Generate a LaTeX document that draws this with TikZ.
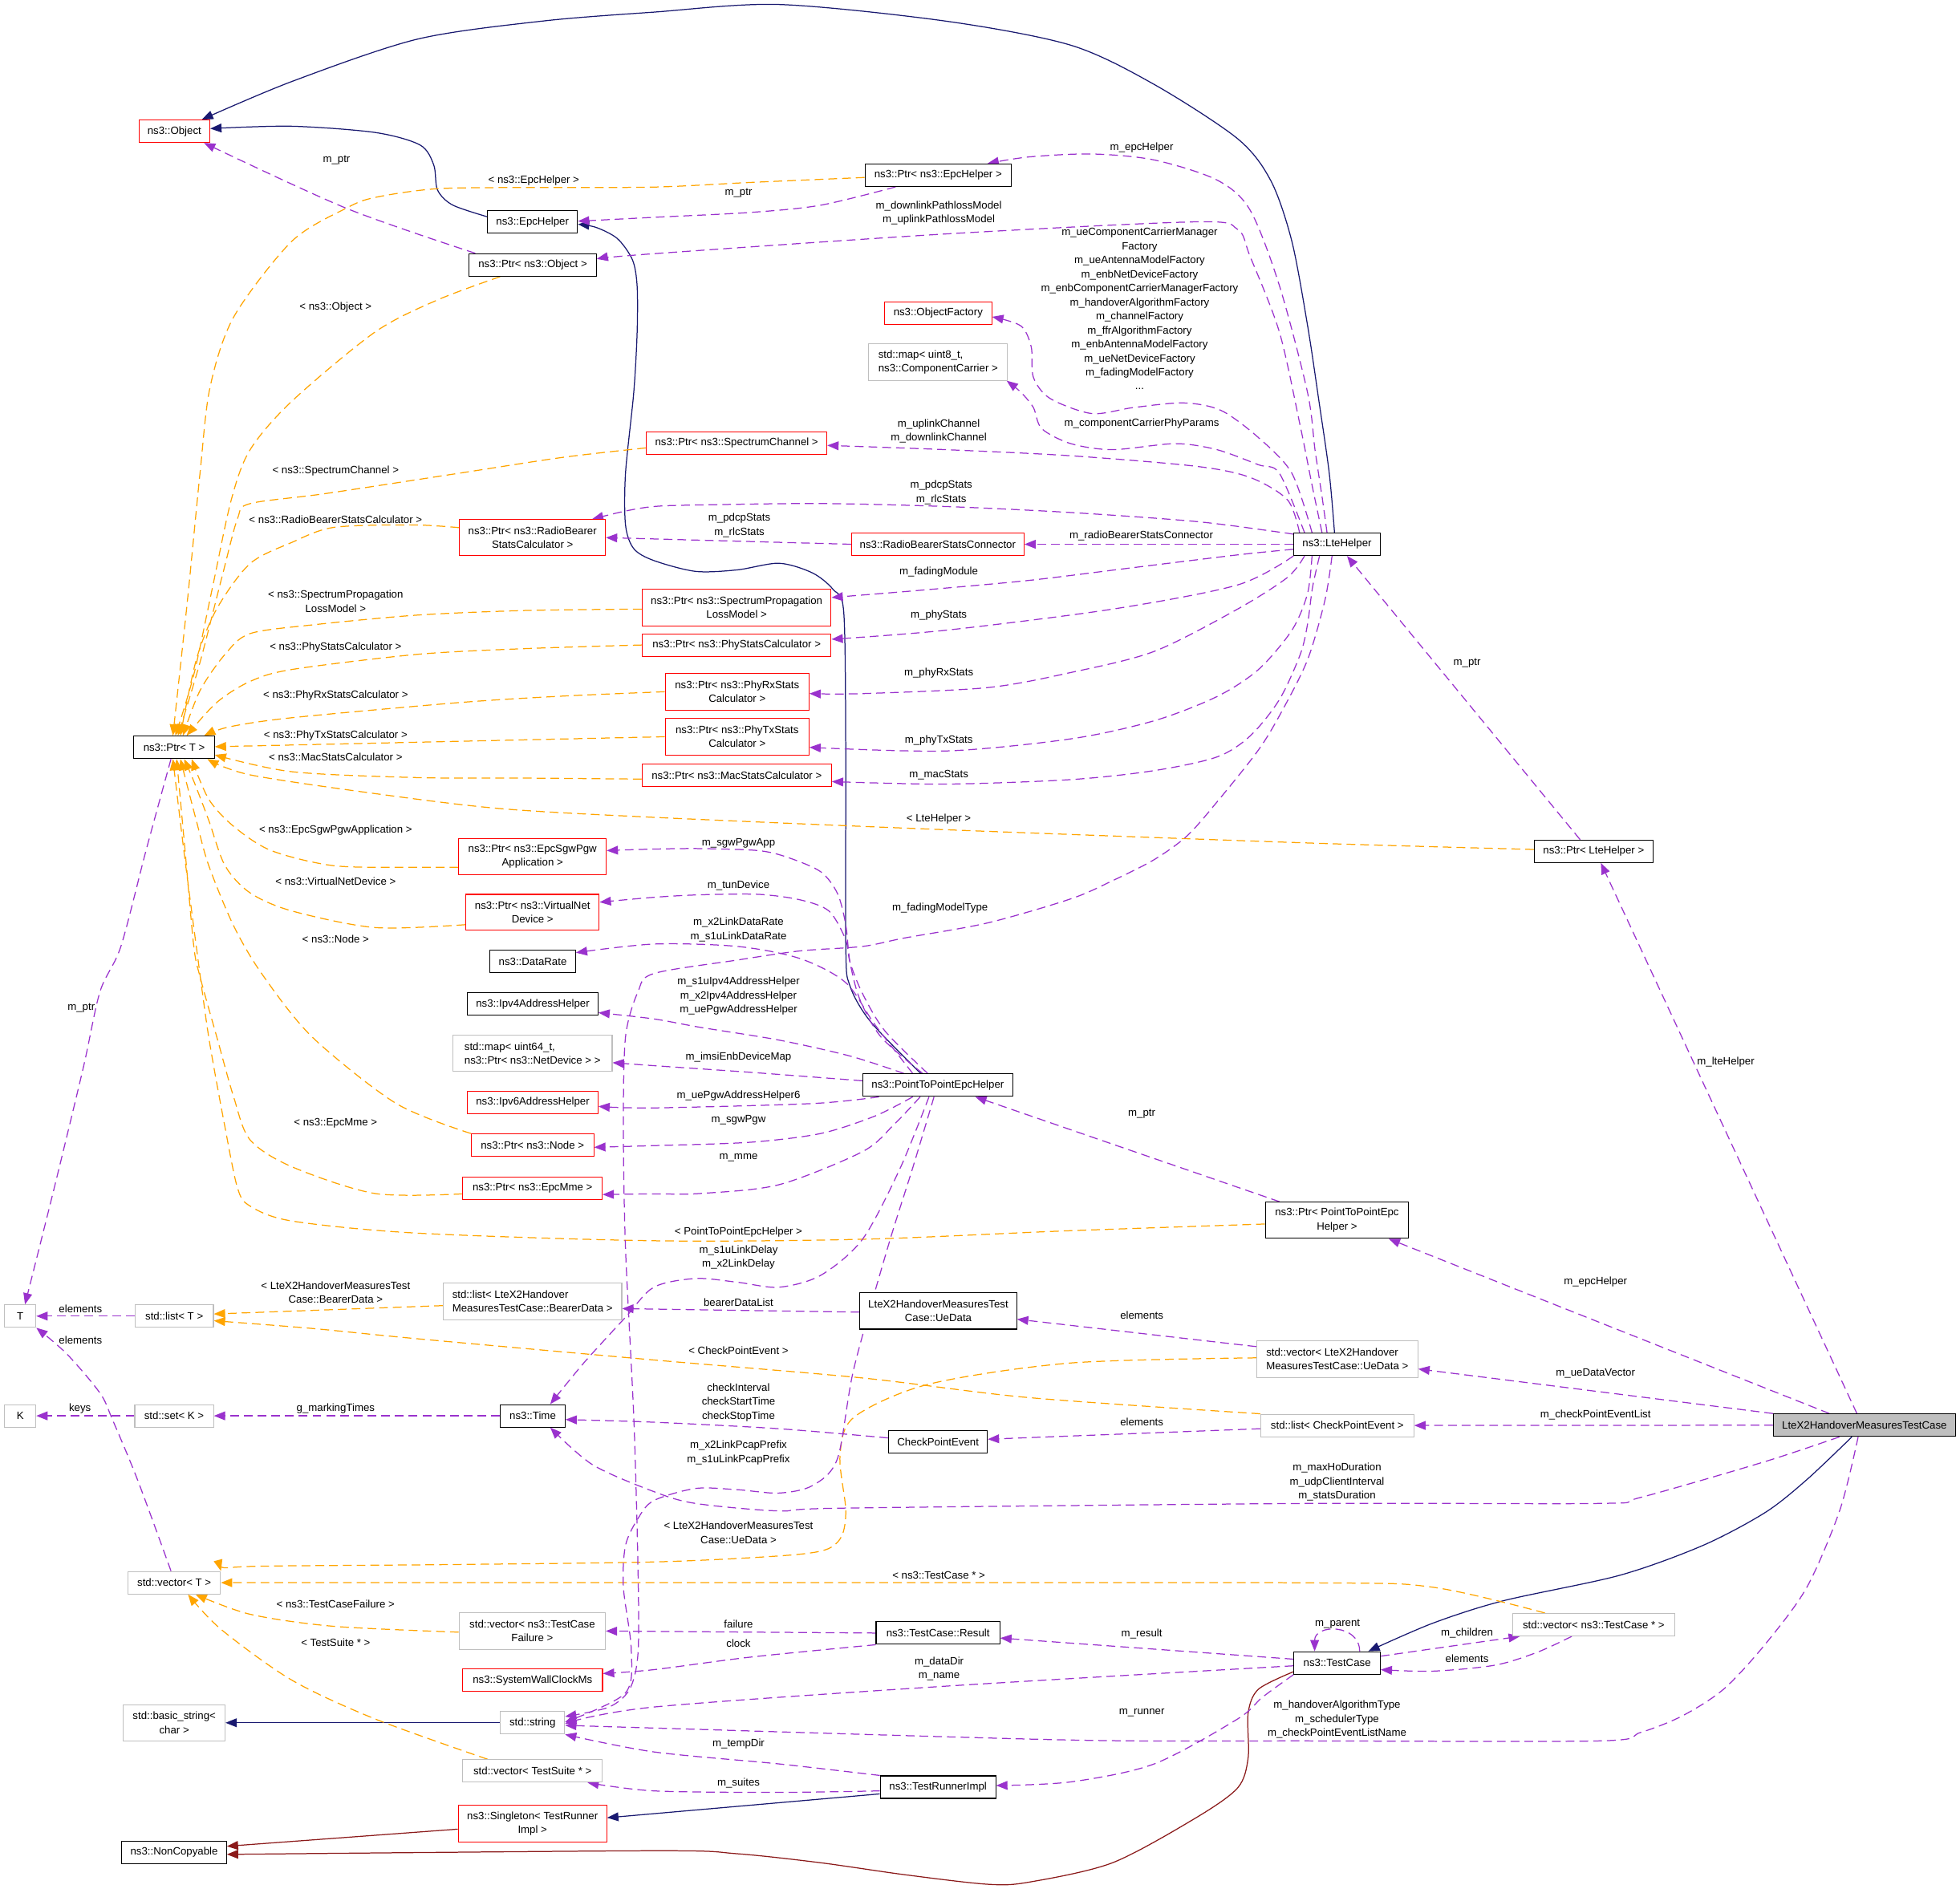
\documentclass[tikz,border=0pt]{standalone}
\usepackage{fontspec}
\setmainfont{Liberation Sans}
\usepackage{tikz}
\usetikzlibrary{arrows.meta,backgrounds}
\newcommand{\dxfont}{\fontsize{8.5pt}{11.2pt}\selectfont}
\definecolor{usecol}{HTML}{9A32CD}
\definecolor{tplcol}{HTML}{FFA500}
\definecolor{inhcol}{HTML}{191970}
\definecolor{privcol}{HTML}{8B1A1A}
\definecolor{grayline}{HTML}{BFBFBF}
\tikzset{
  cls/.style={draw=black,fill=white,line width=0.7pt,inner sep=1pt,
    minimum height=18pt,align=center,font=\dxfont},
  clsred/.style={cls,draw=red},
  clsgray/.style={cls,draw=grayline},
  clsmain/.style={cls,fill=grayline},
  lbl/.style={inner sep=0pt,align=center,font=\dxfont},
  dxtip/.style={-{Triangle[length=9pt,width=7pt]}},
  inh/.style={dxtip,draw=inhcol,line width=0.8pt},
  priv/.style={dxtip,draw=privcol,line width=0.8pt},
  memb/.style={dxtip,draw=usecol,line width=0.8pt,dash pattern=on 7pt off 4pt},
  tmpl/.style={dxtip,draw=tplcol,line width=0.8pt,dash pattern=on 7pt off 4pt},
}

\begin{document}
\begin{tikzpicture}[x=1pt,y=-1pt]
\begin{scope}[on background layer]
\fill[white] (0,0) rectangle (1568,1511.5);
\end{scope}
\useasboundingbox (0,0) rectangle (1568,1511.5);
% left column
\node[clsred,minimum width=56.7pt] (obj) at (139.5,105) {ns3::Object};
\node[cls,minimum width=64.4pt] (ptrt) at (139.3,598) {ns3::Ptr< T >};
\node[clsgray,minimum width=25pt] (tT) at (16.2,1053.1) {T};
\node[clsgray,minimum width=62.7pt] (listt) at (139.4,1053.1) {std::list< T >};
\node[clsgray,minimum width=25pt] (kK) at (16.2,1132.9) {K};
\node[clsgray,minimum width=63pt] (setk) at (139.3,1132.9) {std::set< K >};
\node[clsgray,minimum width=74pt] (vect) at (139.4,1266.4) {std::vector< T >};
\node[clsgray,minimum width=81.4pt,minimum height=29pt] (bstr) at (139.4,1378.5) {std::basic\_string<\\char >};
\node[cls,minimum width=83.7pt] (noncp) at (139.3,1482.1) {ns3::NonCopyable};
% second column
\node[cls,minimum width=72pt] (epch) at (426,177.7) {ns3::EpcHelper};
\node[cls,minimum width=101.7pt] (ptrobj) at (426.2,212) {ns3::Ptr< ns3::Object >};
\node[clsred,minimum width=116.8pt,minimum height=29pt] (ptrrbsc) at (426,430.2) {ns3::Ptr< ns3::RadioBearer\\StatsCalculator >};
\node[clsred,minimum width=118pt,minimum height=29pt] (ptrsgw) at (426,685.4) {ns3::Ptr< ns3::EpcSgwPgw\\Application >};
\node[clsred,minimum width=106.8pt,minimum height=28.5pt] (ptrvnd) at (426,729.9) {ns3::Ptr< ns3::VirtualNet\\Device >};
\node[cls,minimum width=68.4pt] (drate) at (426.2,769.3) {ns3::DataRate};
\node[cls,minimum width=104.4pt] (ipv4) at (426.2,803.3) {ns3::Ipv4AddressHelper};
\node[clsgray,minimum width=127.4pt,minimum height=29pt,align=left] (mapnd) at (426,842.8) {std::map< uint64\_t,\\ ns3::Ptr< ns3::NetDevice > >};
\node[clsred,minimum width=104.4pt] (ipv6) at (426.2,882) {ns3::Ipv6AddressHelper};
\node[clsred,minimum width=98pt] (ptrnode) at (426,916.3) {ns3::Ptr< ns3::Node >};
\node[clsred,minimum width=111.4pt] (ptrmme) at (426,950.6) {ns3::Ptr< ns3::EpcMme >};
\node[clsgray,minimum width=142.8pt,minimum height=29.4pt,align=left] (listbd) at (426,1041.3) {std::list< LteX2Handover\\MeasuresTestCase::BearerData >};
\node[cls,minimum width=51.7pt] (time) at (426.2,1132.9) {ns3::Time};
\node[clsgray,minimum width=117pt,minimum height=29.2pt] (vectcf) at (425.8,1305.1) {std::vector< ns3::TestCase\\Failure >};
\node[clsred,minimum width=112pt] (swcm) at (426,1344.4) {ns3::SystemWallClockMs};
\node[clsgray,minimum width=51.4pt] (str) at (426,1378.5) {std::string};
\node[clsgray,minimum width=111.4pt] (vects) at (426,1417) {std::vector< TestSuite * >};
\node[clsred,minimum width=118.8pt,minimum height=29.2pt] (singl) at (426,1459.1) {ns3::Singleton< TestRunner\\Impl >};
% stats pointers
\node[clsred,minimum width=144.4pt] (ptrspch) at (589.3,354.4) {ns3::Ptr< ns3::SpectrumChannel >};
\node[clsred,minimum width=151.2pt,minimum height=29.2pt] (ptrsplm) at (589.3,486.1) {ns3::Ptr< ns3::SpectrumPropagation\\LossModel >};
\node[clsred,minimum width=151.2pt] (ptrphys) at (589.3,516.1) {ns3::Ptr< ns3::PhyStatsCalculator >};
\node[clsred,minimum width=115pt,minimum height=29.5pt] (ptrphyrx) at (589.7,553.5) {ns3::Ptr< ns3::PhyRxStats\\Calculator >};
\node[clsred,minimum width=115pt,minimum height=29pt] (ptrphytx) at (589.7,589.5) {ns3::Ptr< ns3::PhyTxStats\\Calculator >};
\node[clsred,minimum width=151.5pt] (ptrmac) at (589.4,620.4) {ns3::Ptr< ns3::MacStatsCalculator >};
% middle column
\node[cls,minimum width=117pt] (ptrepch) at (750.5,140.2) {ns3::Ptr< ns3::EpcHelper >};
\node[clsred,minimum width=85.7pt] (objfac) at (750.5,250.5) {ns3::ObjectFactory};
\node[clsgray,minimum width=111pt,minimum height=29pt,align=left] (mapcc) at (750.5,289.8) {std::map< uint8\_t,\\ ns3::ComponentCarrier >};
\node[clsred,minimum width=138pt] (rbscon) at (750.2,435.5) {ns3::RadioBearerStatsConnector};
\node[cls,minimum width=120pt] (p2p) at (750.2,868.3) {ns3::PointToPointEpcHelper};
\node[cls,minimum width=125.4pt,minimum height=29.2pt] (uedata) at (750.6,1048.9) {LteX2HandoverMeasuresTest\\Case::UeData};
\node[cls,minimum width=79pt] (cpe) at (750.4,1153.6) {CheckPointEvent};
\node[cls,minimum width=99pt] (tcres) at (750.4,1306.7) {ns3::TestCase::Result};
\node[cls,minimum width=92.4pt] (trimpl) at (750.4,1430) {ns3::TestRunnerImpl};
% right part
\node[cls,minimum width=69pt] (lte) at (1069.6,435.5) {ns3::LteHelper};
\node[cls,minimum width=114.8pt,minimum height=29pt] (ptrp2p) at (1069.6,976.4) {ns3::Ptr< PointToPointEpc\\Helper >};
\node[clsgray,minimum width=129pt,minimum height=29.3pt,align=left] (vecue) at (1069.8,1087.5) {std::vector< LteX2Handover\\MeasuresTestCase::UeData >};
\node[clsgray,minimum width=122.5pt] (listcpe) at (1069.8,1140.6) {std::list< CheckPointEvent >};
\node[cls,minimum width=69pt] (tcase) at (1069.7,1330.6) {ns3::TestCase};
\node[cls,minimum width=94.8pt] (ptrlte) at (1274.9,681.2) {ns3::Ptr< LteHelper >};
\node[clsgray,minimum width=130pt] (vectc) at (1274.9,1300) {std::vector< ns3::TestCase * >};
\node[clsmain,minimum width=145.5pt] (testx2) at (1491.5,1140.4) {LteX2HandoverMeasuresTestCase};

% labels
\node[lbl] (lptrobj) at (269.2,128) {m\_ptr};
\node[lbl] (ltepch) at (427,144.2) {< ns3::EpcHelper >};
\node[lbl] (lepch) at (913.4,118.3) {m\_epcHelper};
\node[lbl] (lptrepch) at (590.8,154.6) {m\_ptr};
\node[lbl] (lpath) at (751,170.5) {m\_downlinkPathlossModel\\m\_uplinkPathlossModel};
\node[lbl] (lfac) at (911.7,247.2) {m\_ueComponentCarrierManager\\Factory\\m\_ueAntennaModelFactory\\m\_enbNetDeviceFactory\\m\_enbComponentCarrierManagerFactory\\m\_handoverAlgorithmFactory\\m\_channelFactory\\m\_ffrAlgorithmFactory\\m\_enbAntennaModelFactory\\m\_ueNetDeviceFactory\\m\_fadingModelFactory\\...};
\node[lbl] (ltobj) at (268.5,245.6) {< ns3::Object >};
\node[lbl] (lccphy) at (913.4,338.8) {m\_componentCarrierPhyParams};
\node[lbl] (lchan) at (751,345) {m\_uplinkChannel\\m\_downlinkChannel};
\node[lbl] (ltspch) at (268.5,376.7) {< ns3::SpectrumChannel >};
\node[lbl] (lpdcpa) at (753,394) {m\_pdcpStats\\m\_rlcStats};
\node[lbl] (ltrbsc) at (268.5,415.6) {< ns3::RadioBearerStatsCalculator >};
\node[lbl] (lpdcpb) at (591.5,420.3) {m\_pdcpStats\\m\_rlcStats};
\node[lbl] (lrbscon) at (913,429) {m\_radioBearerStatsConnector};
\node[lbl] (lfadmod) at (751,457.7) {m\_fadingModule};
\node[lbl] (ltsplm) at (268.5,481.1) {< ns3::SpectrumPropagation\\LossModel >};
\node[lbl] (lphys) at (751,492.2) {m\_phyStats};
\node[lbl] (ltphys) at (268.5,518.3) {< ns3::PhyStatsCalculator >};
\node[lbl] (lptrlte) at (1173.6,530.8) {m\_ptr};
\node[lbl] (lphyrx) at (751,538.3) {m\_phyRxStats};
\node[lbl] (ltphyrx) at (268.5,556.2) {< ns3::PhyRxStatsCalculator >};
\node[lbl] (ltphytx) at (268.5,588.3) {< ns3::PhyTxStatsCalculator >};
\node[lbl] (lphytx) at (751,592.2) {m\_phyTxStats};
\node[lbl] (ltmac) at (268.5,605.7) {< ns3::MacStatsCalculator >};
\node[lbl] (lmac) at (751,620.4) {m\_macStats};
\node[lbl] (ltlte) at (751,655.2) {< LteHelper >};
\node[lbl] (ltsgw) at (268.5,664.2) {< ns3::EpcSgwPgwApplication >};
\node[lbl] (lsgwapp) at (590.8,674.5) {m\_sgwPgwApp};
\node[lbl] (ltvnd) at (268.5,705.2) {< ns3::VirtualNetDevice >};
\node[lbl] (ltun) at (590.8,708.8) {m\_tunDevice};
\node[lbl] (lfadtype) at (752,726.9) {m\_fadingModelType};
\node[lbl] (ldrate) at (590.8,744) {m\_x2LinkDataRate\\m\_s1uLinkDataRate};
\node[lbl] (ltnode) at (268.5,751.3) {< ns3::Node >};
\node[lbl] (lipv4) at (590.8,797.1) {m\_s1uIpv4AddressHelper\\m\_x2Ipv4AddressHelper\\m\_uePgwAddressHelper};
\node[lbl] (lptrt) at (65,806.8) {m\_ptr};
\node[lbl] (limsi) at (590.8,846.2) {m\_imsiEnbDeviceMap};
\node[lbl] (llteh) at (1380.6,850) {m\_lteHelper};
\node[lbl] (lipv6) at (590.8,877.1) {m\_uePgwAddressHelper6};
\node[lbl] (lptrp2p) at (913.4,891.1) {m\_ptr};
\node[lbl] (lsgw) at (590.8,895.9) {m\_sgwPgw};
\node[lbl] (ltmme) at (268.5,898.6) {< ns3::EpcMme >};
\node[lbl] (lmme) at (590.8,926.6) {m\_mme};
\node[lbl] (ltp2p) at (590.8,986) {< PointToPointEpcHelper >};
\node[lbl] (ldelay) at (590.8,1006) {m\_s1uLinkDelay\\m\_x2LinkDelay};
\node[lbl] (lepcb) at (1276.4,1025.8) {m\_epcHelper};
\node[lbl] (ltbd) at (268.5,1034) {< LteX2HandoverMeasuresTest\\Case::BearerData >};
\node[lbl] (lbdlist) at (590.8,1042.3) {bearerDataList};
\node[lbl] (lelta) at (64.4,1047.1) {elements};
\node[lbl] (leltue) at (913.4,1052.4) {elements};
\node[lbl] (leltb) at (64.4,1072.5) {elements};
\node[lbl] (ltcpe) at (590.8,1080.9) {< CheckPointEvent >};
\node[lbl] (luevec) at (1276.4,1099) {m\_ueDataVector};
\node[lbl] (lcheck) at (590.8,1122.2) {checkInterval\\checkStartTime\\checkStopTime};
\node[lbl] (lkeys) at (64,1126.8) {keys};
\node[lbl] (lmark) at (268.5,1126.8) {g\_markingTimes};
\node[lbl] (lcpel) at (1276.4,1132.5) {m\_checkPointEventList};
\node[lbl] (leltcpe) at (913.4,1138) {elements};
\node[lbl] (lpcap) at (590.8,1162.3) {m\_x2LinkPcapPrefix\\m\_s1uLinkPcapPrefix};
\node[lbl] (ldur) at (1069.6,1185.8) {m\_maxHoDuration\\m\_udpClientInterval\\m\_statsDuration};
\node[lbl] (ltue) at (590.8,1226.5) {< LteX2HandoverMeasuresTest\\Case::UeData >};
\node[lbl] (lttc) at (751,1260.5) {< ns3::TestCase * >};
\node[lbl] (lttcf) at (268.5,1283.3) {< ns3::TestCaseFailure >};
\node[lbl] (lfail) at (590.8,1299.3) {failure};
\node[lbl] (lparent) at (1070,1299.6) {m\_parent};
\node[lbl] (lchild) at (1173.6,1306.5) {m\_children};
\node[lbl] (lresult) at (913.4,1307.2) {m\_result};
\node[lbl] (ltts) at (268.5,1314.4) {< TestSuite * >};
\node[lbl] (lclock) at (590.8,1314.7) {clock};
\node[lbl] (lelttc) at (1173.6,1327.1) {elements};
\node[lbl] (ldir) at (751.3,1335.2) {m\_dataDir\\m\_name};
\node[lbl] (lrunner) at (913.4,1370.7) {m\_runner};
\node[lbl] (lhotype) at (1069.6,1375.9) {m\_handoverAlgorithmType\\m\_schedulerType\\m\_checkPointEventListName};
\node[lbl] (ltemp) at (590.8,1395.4) {m\_tempDir};
\node[lbl] (lsuites) at (590.8,1426.5) {m\_suites};

\begin{scope}[on background layer]
% inheritance
\draw[inh] plot[smooth] coordinates {([xshift=-2pt]lte.north) (1063.4,378.7) (1055,320) (1046.1,260.8) (1033.5,193.2) (1016.8,144.9) (990.2,111.1) (923.4,67.6) (856.7,36.2) (756.6,16.9) (623.2,3.6) (523.1,9.7) (433.7,16.9) (333.6,31.4) (233.5,65.2) ([xshift=22pt]obj.north)};
\draw[inh] plot[smooth] coordinates {([yshift=4.3pt]epch.west) (362,164) (350,152) (347,132) (336,116) (300,106) (233,101) ([yshift=2.1pt]obj.east)};
\draw[inh] plot[smooth] coordinates {([xshift=-13.6pt]p2p.north) (696.6,817.7) (679.9,788.7) (676.6,757) (676.6,600) (675,490) (666.5,471.7) (649.9,458.4) (623.2,450.7) (589.8,456) (556.5,457.2) (523,448.5) (507,439) (500.4,420) (500.4,378.7) (507,314) (509.7,266) (509.7,229) (506,208) (494,191) (477,182) ([yshift=-1.7pt]epch.east)};
\draw[inh] plot[smooth] coordinates {([xshift=-10pt]testx2.south) (1445.5,1183.9) (1412.2,1210.2) (1362.3,1236.6) (1295.7,1260.5) (1202.5,1280.9) (1146,1298.9) ([xshift=25pt]tcase.north)};
\draw[inh] (str) -- (bstr);
\draw[inh] ([yshift=-5.4pt]trimpl.west) -- ([yshift=4.6pt]singl.east);
\draw[priv] ([yshift=-4.5pt]singl.west) -- ([yshift=4.8pt]noncp.east);
\draw[priv] plot[smooth] coordinates {([yshift=-7pt]tcase.west) (1006.8,1351.6) (998.5,1370.7) (998.5,1406.6) (990.1,1430.6) (956.8,1454.5) (890,1490.5) (823.3,1506) (790,1507.7) (723.3,1500) (656.5,1490.5) (589.8,1483.3) (523.1,1480.9) ([yshift=-1.7pt]noncp.east)};
% template instances
\draw[tmpl] plot[smooth] coordinates {([yshift=-1.8pt]ptrepch.west) (600,146) (523,149.7) (427,150) (350,151) (300,158) (277,166.6) (233.5,193) (187,253.6) (168,310) (160,378.7) (150,480) ([xshift=-1pt]ptrt.north)};
\draw[tmpl] plot[smooth] coordinates {([xshift=-26pt]ptrobj.south) (350,240) (300,265.7) (233.5,321) (200,360) (185,400) (170,470) (155,540) ([xshift=1pt]ptrt.north)};
\draw[tmpl] plot[smooth] coordinates {([yshift=-4pt]ptrspch.west) (450,366) (367,378.7) (260,395) (200,403) (190,415) (178,460) (160,530) ([xshift=3pt]ptrt.north)};
\draw[tmpl] plot[smooth] coordinates {([yshift=8pt]ptrrbsc.west) (330,420) (267,422) (233.5,434) (200,451) (173.5,487) (157,528) ([xshift=5pt]ptrt.north)};
\draw[tmpl] plot[smooth] coordinates {([yshift=-1.3pt]ptrsplm.west) (420,488.5) (333.6,492.2) (250,500) (200,507) (180,523.6) (160,552.6) ([xshift=7pt]ptrt.north)};
\draw[tmpl] plot[smooth] coordinates {(ptrphys.west) (420,519) (333.6,523.6) (233.5,535.7) (200,545.3) (173.5,562) ([xshift=10pt]ptrt.north)};
\draw[tmpl] plot[smooth] coordinates {(ptrphyrx.west) (450,557) (367,562.2) (233.5,574.3) (183.5,581.6) ([xshift=24pt]ptrt.north)};
\draw[tmpl] (ptrphytx.west) -- ([yshift=0.5pt]ptrt.east);
\draw[tmpl] plot[smooth] coordinates {([yshift=-3pt]ptrmac.west) (420,622.6) (333.6,622.2) (233.5,617.5) ([yshift=-6pt]ptrt.east)};
\draw[tmpl] plot[smooth] coordinates {([yshift=1.5pt]ptrlte.west) (1046,674.5) (751,663.7) (523,654) (400,647) (300,635) (200,620) ([xshift=-6pt]ptrt.south east)};
\draw[tmpl] plot[smooth] coordinates {([yshift=-8.5pt]ptrsgw.west) (330,694) (267,692.7) (217,680.6) (187,661.3) (167,639.5) ([xshift=14pt]ptrt.south)};
\draw[tmpl] plot[smooth] coordinates {([yshift=-10pt]ptrvnd.west) (300,742.2) (233.5,728.9) (200,714.4) (180,692.6) (167,656.4) (155,625) ([xshift=8pt]ptrt.south)};
\draw[tmpl] plot[smooth] coordinates {(ptrnode.north west) (317,883) (250,830) (210,780) (187,741) (167,692.6) (157,656.4) ([xshift=5pt]ptrt.south)};
\draw[tmpl] plot[smooth] coordinates {([yshift=-4.7pt]ptrmme.west) (300,955) (233.5,933.6) (200,912) (187,878) (173.5,830) (160,781.5) (155,757) (148,680) ([xshift=2pt]ptrt.south)};
\draw[tmpl] plot[smooth] coordinates {([yshift=-3pt]ptrp2p.west) (850,985) (690,991.6) (523,992.8) (333.6,986.7) (233.5,977) (200,965) (190,950.5) (180,902) (167,830) (157,757) (147,680) ([xshift=-1pt]ptrt.south)};
\draw[tmpl] ([yshift=-3.4pt]listbd.west) -- ([yshift=1.7pt]listt.east);
\draw[tmpl] plot[smooth] coordinates {(listcpe.north west) (823,1118.3) (690,1102.6) (523,1088.2) (333.6,1071.2) (250,1063) ([yshift=-3.7pt]listt.east)};
\draw[tmpl] plot[smooth] coordinates {([yshift=1pt]vecue.west) (856.7,1090.6) (743.3,1107.5) (683.2,1134) (672,1165) (676.6,1208) (673.2,1229.4) (660,1240.2) (623.2,1245) (523.1,1249.8) (350,1252) (200,1253.4) (vect.north east)};
\draw[tmpl] plot[smooth] coordinates {([xshift=-39pt]vectc.north) (1146,1270) (1046,1266.5) (600,1266.4) (vect.east)};
\draw[tmpl] plot[smooth] coordinates {([yshift=-0.9pt]vectcf.west) (266.9,1301.3) (200.2,1291.7) ([xshift=17pt]vect.south)};
\draw[tmpl] plot[smooth] coordinates {([xshift=-36pt]vects.north) (300.2,1375.5) (233.5,1344.4) (176.8,1303.7) ([xshift=11pt]vect.south)};
% members of LteHelper
\draw[memb] plot[smooth] coordinates {([xshift=-46pt]ptrobj.north) (276.9,166.6) ([xshift=-5pt]obj.south east)};
\draw[memb] plot[smooth] coordinates {([xshift=-34pt]ptrepch.south) (656.5,164.2) (600,170) (523,173.9) ([yshift=0.7pt]epch.east)};
\draw[memb] plot[smooth] coordinates {([xshift=-8pt]lte.north) (1058,400) (1052,360) (1046,314) (1023.5,228.5) (1000,168) (973.5,144) (923.4,128) (873.4,123.2) (823,125.6) ([xshift=39.5pt]ptrepch.north)};
\draw[memb] plot[smooth] coordinates {([xshift=-12pt]lte.north) (1050,390) (1040,340) (1023.5,265.7) (1000,205) (990,183.5) (956.8,177.5) (756.6,187.2) (523,203) ([yshift=4.8pt]ptrobj.east)};
\draw[memb] plot[smooth] coordinates {([xshift=-20pt]lte.north) (1033.5,378.7) (1006.8,350.2) (976.8,328.4) (946.8,322.4) (906.8,326.1) (873.4,330.9) (840,318.8) (826.7,301.9) (825,277.7) (816.7,260.8) ([yshift=-3pt]objfac.east)};
\draw[memb] plot[smooth] coordinates {([xshift=-26pt]lte.north) (1023.5,378.7) (1006.8,371.9) (973.5,359.8) (940,355) (890,359.8) (856.7,355) (833.4,343) (826.7,326.1) (816.7,313.9) ([xshift=-1pt]mapcc.south east)};
\draw[memb] plot[smooth] coordinates {([xshift=-30pt]lte.north) (1030,400) (1000,382) (956.8,373.1) (856.7,364.7) (756.6,359.8) ([yshift=-2pt]ptrspch.east)};
\draw[memb] plot[smooth] coordinates {([yshift=8pt]lte.west) (1023.5,425.8) (956.8,417.3) (856.7,410.1) (756.6,405.3) (656.5,402.9) (556.5,404.1) (523,405.3) (500.4,408.9) ([xshift=47.7pt]ptrrbsc.north)};
\draw[memb] (rbscon.west) -- (ptrrbsc.east);
\draw[memb] (lte.west) -- (rbscon.east);
\draw[memb] plot[smooth] coordinates {([yshift=-4pt]lte.west) (990,444) (900,455) (823.3,464.4) (740,472) ([yshift=8pt]ptrsplm.east)};
\draw[memb] plot[smooth] coordinates {(lte.south west) (990.2,468) (890,487.4) (756.6,504.3) ([yshift=4.6pt]ptrphys.east)};
\draw[memb] plot[smooth] coordinates {([xshift=-26pt]lte.south) (1030,462) (990,487.4) (923.4,521.2) (856.7,538.1) (790,550.2) (690,555) ([yshift=-1.5pt]ptrphyrx.east)};
\draw[memb] plot[smooth] coordinates {([xshift=-20pt]lte.south) (1046,475) (1033.5,504.3) (1006.8,535.7) (973.5,557.4) (923.4,576.7) (856.7,591.2) (756.6,600.9) ([yshift=-8.5pt]ptrphytx.east)};
\draw[memb] plot[smooth] coordinates {([xshift=-14pt]lte.south) (1050,470) (1046,499.5) (1040.2,523.6) (1023.5,559.8) (1000.2,588.8) (973.5,605.7) (923.4,616.6) (856.7,623.8) (756.6,627.4) ([yshift=-5pt]ptrmac.east)};
\draw[memb] plot[smooth] coordinates {([xshift=-4pt]lte.south) (1060,480) (1046,528) (1025,570) (1006.8,600) (975,640) (950,668.5) (923.4,687.8) (890,704.7) (856.7,719.2) (790,738.5) (723.3,750.6) (690,757.3) (639.9,760.9) (589.8,768.2) (523,779) (510.4,793.5) (500.4,829.8) (498.7,902.2) (500.4,998.8) (507.1,1136) (510.4,1255.8) (510.4,1322.8) (503.7,1351.6) (487,1366) ([yshift=5pt]str.east)};
\draw[memb] ([xshift=-10.8pt]ptrlte.north) -- ([xshift=8pt]lte.south);
% members of PointToPointEpcHelper
\draw[memb] plot[smooth] coordinates {([xshift=-12pt]p2p.north) (705,830) (688,800) (680,770) (676.6,740) (670,715) (656.5,697.5) (630,686) (606.5,680.6) (560,679) (523,679.4) ([yshift=4.8pt]ptrsgw.east)};
\draw[memb] plot[smooth] coordinates {([xshift=-8pt]p2p.north) (708,825) (690,795) (680,770) (676.6,752) (663.2,729) (640,720) (606.5,715.6) (560,716) (523,718) ([yshift=8pt]ptrvnd.east)};
\draw[memb] plot[smooth] coordinates {([xshift=-20pt]p2p.north) (700,820) (676.6,786.3) (640,767) (590,757.3) (523,755.4) ([yshift=7pt]drate.east)};
\draw[memb] plot[smooth] coordinates {([xshift=-27pt]p2p.north) (680,845) (623,832.2) (560,822) (523,815.3) ([yshift=-7pt]ipv4.east)};
\draw[memb] plot[smooth] coordinates {([yshift=3.5pt]p2p.west) (600,858) (523,852.7) ([yshift=-7.5pt]mapnd.east)};
\draw[memb] plot[smooth] coordinates {([xshift=-47pt]p2p.south) (650,883) (523,886.5) ([yshift=-3.3pt]ipv6.east)};
\draw[memb] plot[smooth] coordinates {([xshift=-20pt]p2p.south) (700,893) (656.5,907) (600,914) (523,916.7) ([yshift=-1.7pt]ptrnode.east)};
\draw[memb] plot[smooth] coordinates {([xshift=-14pt]p2p.south) (715,900) (690,921.5) (623,948) (560,955) (523,955.3) ([yshift=-5.2pt]ptrmme.east)};
\draw[memb] plot[smooth] coordinates {([xshift=-7pt]p2p.south) (720,935) (690,991.6) (656.5,1020.5) (623,1030) (590,1026) (556.5,1023) (523,1030) (500.4,1054) (467,1090.6) ([xshift=14pt]time.north)};
\draw[memb] plot[smooth] coordinates {([xshift=-3pt]p2p.south) (730,935) (710,998.8) (683,1095.4) (670,1167) (650,1188.7) (623,1194.7) (590,1192) (556.5,1191) (523,1200.7) (510.4,1215) (500.4,1236.6) (498.7,1270) (505,1320) (500,1355) ([yshift=0.6pt]str.east)};
\draw[memb] ([xshift=-46pt]ptrp2p.north) -- ([xshift=30pt]p2p.south);
% members of the test case
\draw[memb] ([xshift=-6pt]testx2.north) -- ([xshift=5.8pt]ptrlte.south);
\draw[memb] ([xshift=-28pt]testx2.north) -- ([xshift=41.4pt]ptrp2p.south);
\draw[memb] (testx2.north west) -- ([yshift=-7.9pt]vecue.east);
\draw[memb] ([yshift=10pt]vecue.west) -- ([yshift=-6.7pt]uedata.east);
\draw[memb] ([yshift=-1pt]uedata.west) -- ([yshift=-5.8pt]listbd.east);
\draw[memb] (testx2.west) -- (listcpe.east);
\draw[memb] ([yshift=-2.6pt]listcpe.west) -- ([yshift=2pt]cpe.east);
\draw[memb] plot[smooth] coordinates {([yshift=3pt]cpe.west) (623,1143.2) (523,1138) ([yshift=-3pt]time.east)};
\draw[memb] plot[smooth] coordinates {([xshift=-20pt]testx2.south) (1412,1169.5) (1312,1198.3) (1279,1203) (1046,1203) (676.6,1206.7) (623,1209) (556.5,1203) (523,1193.5) (474,1172) ([xshift=14pt]time.south)};
\draw[memb] plot[smooth] coordinates {([xshift=-5pt]testx2.south) (1472,1207.9) (1445.5,1270) (1412.2,1315.6) (1378.9,1351.6) (1345.6,1373.1) (1312.3,1386.3) (1279,1393) (1046,1393) (856.7,1392.3) (523,1382.7) ([yshift=-2pt]str.east)};
% members of TestCase and TestRunnerImpl
\draw[memb] (tcres.west) -- (vectcf.east);
\draw[memb] plot[smooth] coordinates {(tcres.south west) (600,1326) (523,1336) ([yshift=5.3pt]swcm.east)};
\draw[memb] ([yshift=3pt]tcase.west) -- ([yshift=-4pt]tcres.east);
\draw[memb] plot[smooth] coordinates {([yshift=-2.3pt]tcase.west) (756.6,1349.2) (523,1365.9) ([yshift=-0.6pt]str.east)};
\draw[memb] plot[smooth] coordinates {(trimpl.north west) (623,1411.4) (523,1401.8) (str.south east)};
\draw[memb] plot[smooth] coordinates {([yshift=-3pt]trimpl.west) (623,1434.2) (523,1433) ([xshift=44pt]vects.south)};
\draw[memb] plot[smooth] coordinates {(tcase.south west) (1010,1358) (990,1375.5) (923.4,1411.4) (856.7,1425.8) ([yshift=1.3pt]trimpl.east)};
\draw[memb] ([xshift=18pt]tcase.north) .. controls +(0,-22) and +(0,-22) .. ([xshift=-18pt]tcase.north);
\draw[memb] ([yshift=5.4pt]tcase.east) -- ([xshift=-59pt]vectc.south);
\draw[memb] plot[smooth] coordinates {([xshift=-17.5pt]vectc.south) (1230,1322) (1196,1332.4) (1146,1337.2) ([yshift=-5.4pt]tcase.east)};
% containers
\draw[memb] plot[smooth] coordinates {([xshift=-2.5pt]ptrt.south) (116.8,680.6) (96.7,757.3) (80,793.5) (66.7,854) (43.4,950.5) ([xshift=3.8pt]tT.north)};
\draw[memb] (listt) -- (tT);
\draw[memb] plot[smooth] coordinates {([xshift=-2.6pt]vect.north) (110,1184) (90,1136) (80,1114.7) (53.4,1083.3) (tT.south east)};
\draw[memb] (setk) -- (kK);
\draw[memb] (time) -- (setk);
\end{scope}
\end{tikzpicture}
\end{document}
